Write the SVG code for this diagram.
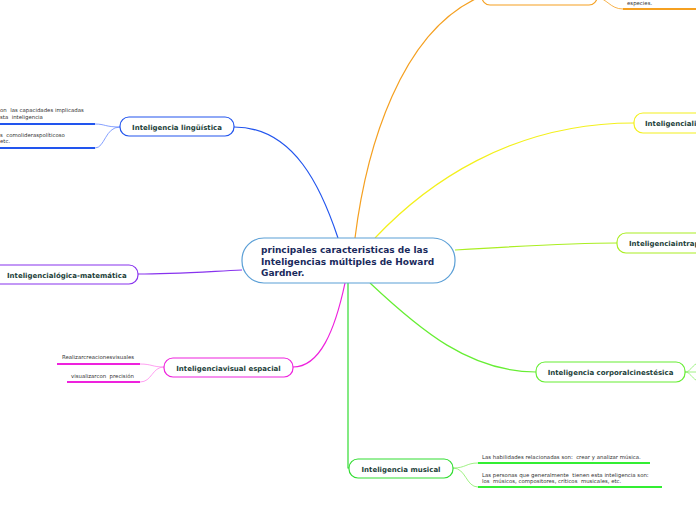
<svg xmlns="http://www.w3.org/2000/svg" width="696" height="520" viewBox="0 0 696 520">
<style>
.node{fill:#fff;stroke-width:1.2}
.lbl{font-family:"DejaVu Sans",Verdana,sans-serif;font-weight:bold;font-size:7px;fill:#1d3f3a}
.sm{font-family:"DejaVu Sans",Verdana,sans-serif;font-size:5.4px;fill:#333;white-space:pre}
.br{fill:none;stroke-width:1.2}
.sb{fill:none;stroke-width:0.8}
.ul{fill:none;stroke-width:1.8}
</style>
<rect width="696" height="520" fill="#fff"/>
<g id="connectors">
<path class="br" stroke="#2255ee" d="M338,238 C322,190 295,127 234,127"/>
<path class="br" stroke="#f5a020" d="M355,238 C366,150 400,30 482,-4"/>
<path class="br" stroke="#f3f01c" d="M375,238 C425,185 510,123 634,123"/>
<path class="br" stroke="#aaee22" d="M455,250 C520,246 580,243 617,243"/>
<path class="br" stroke="#66ee33" d="M370,283 C420,330 470,372 536,372"/>
<path class="br" stroke="#33dd33" d="M348,283 L348,468 L349,468"/>
<path class="br" stroke="#ee22dd" d="M345,283 C335,330 320,367 293,367"/>
<path class="br" stroke="#8833ee" d="M242,270 C200,272 170,274 138,274"/>
<path class="sb" stroke="#6688ff" d="M120,127 C105,127 105,124 95,124"/>
<path class="sb" stroke="#6688ff" d="M120,127 C105,127 105,148 95,148"/>
<path class="ul" stroke="#2255ee" d="M0,124 L95,124 M0,148 L95,148"/>
<path class="sb" stroke="#f5a020" d="M597,-2 C607,-2 610,9 623,9"/>
<path class="ul" stroke="#f5a020" d="M623,9 L696,9"/>
<path class="sb" stroke="#88ee66" d="M685,372 C690,372 692,366 696,364 M685,372 L696,372 M685,372 C690,372 692,378 696,380"/>
<path class="sb" stroke="#88ee66" d="M453,468 C466,468 466,463 478,463 M453,468 C466,468 466,487 478,487"/>
<path class="ul" stroke="#33ee33" d="M478,463 L650,463 M478,487 L662,487"/>
<path class="sb" stroke="#ff88ee" d="M164,367 C152,367 152,364 140,364 M164,367 C152,367 152,382 140,382"/>
<path class="ul" stroke="#ee22dd" d="M57,364 L140,364 M67,382 L140,382"/>
</g>
<g id="center">
<rect class="node" x="242" y="238" width="213" height="45" rx="22" stroke="#5b9fd6"/>
<text font-family="DejaVu Sans,Verdana,sans-serif" font-weight="bold" font-size="9px" fill="#1a2a5c"><tspan x="261" y="253">principales caracteristicas de las</tspan><tspan x="261" y="264.5">Inteligencias múltiples de Howard</tspan><tspan x="261" y="276">Gardner.</tspan></text>
</g>
<g id="n-linguistica">
<rect class="node" x="120" y="117" width="114" height="19" rx="9" stroke="#2255ee"/>
<text class="lbl" x="177" y="129.5" text-anchor="middle">Inteligencia lingüística</text>
<text class="sm"><tspan x="0" y="112">on  las capacidades implicadas</tspan><tspan x="0" y="118.5">sta  inteligencia</tspan></text>
<text class="sm"><tspan x="0" y="136.5">s  comolideraspolíticoso</tspan><tspan x="0" y="143">etc.</tspan></text>
</g>
<g id="n-orange">
<rect class="node" x="482" y="-20" width="115" height="25" rx="8" stroke="#f5a020"/>
<text class="sm" x="627" y="5">especies.</text>
</g>
<g id="n-yellow">
<rect class="node" x="634" y="113" width="80" height="20" rx="9" stroke="#f3f01c"/>
<text class="lbl" x="645" y="126">Inteligenciali</text>
</g>
<g id="n-intra">
<rect class="node" x="617" y="233" width="90" height="20" rx="9" stroke="#aaee22"/>
<text class="lbl" x="629" y="246">Inteligenciaintrap</text>
</g>
<g id="n-corporal">
<rect class="node" x="536" y="362" width="149" height="20" rx="9" stroke="#66ee33"/>
<text class="lbl" x="610.5" y="375" text-anchor="middle">Inteligencia corporalcinestésica</text>
</g>
<g id="n-musical">
<rect class="node" x="349" y="459" width="104" height="19" rx="9" stroke="#33dd33"/>
<text class="lbl" x="401" y="471.5" text-anchor="middle">Inteligencia musical</text>
<text class="sm" x="482" y="458.5">Las habilidades relacionadas son:  crear y analizar música.</text>
<text class="sm"><tspan x="482" y="476.5">Las personas que generalmente  tienen esta inteligencia son:</tspan><tspan x="482" y="483">los  músicos, compositores, críticos  musicales, etc.</tspan></text>
</g>
<g id="n-visual">
<rect class="node" x="164" y="358" width="129" height="19" rx="9" stroke="#ee22dd"/>
<text class="lbl" x="228.5" y="370.5" text-anchor="middle">Inteligenciavisual espacial</text>
<text class="sm" x="62" y="359">Realizarcreacionesvisuales</text>
<text class="sm" x="71" y="377.5">visualizarcon  precisión</text>
</g>
<g id="n-logica">
<rect class="node" x="-10" y="265" width="148" height="19" rx="9" stroke="#8833ee"/>
<text class="lbl" x="7" y="277.5">Inteligencialógica-matemática</text>
</g>
</svg>
